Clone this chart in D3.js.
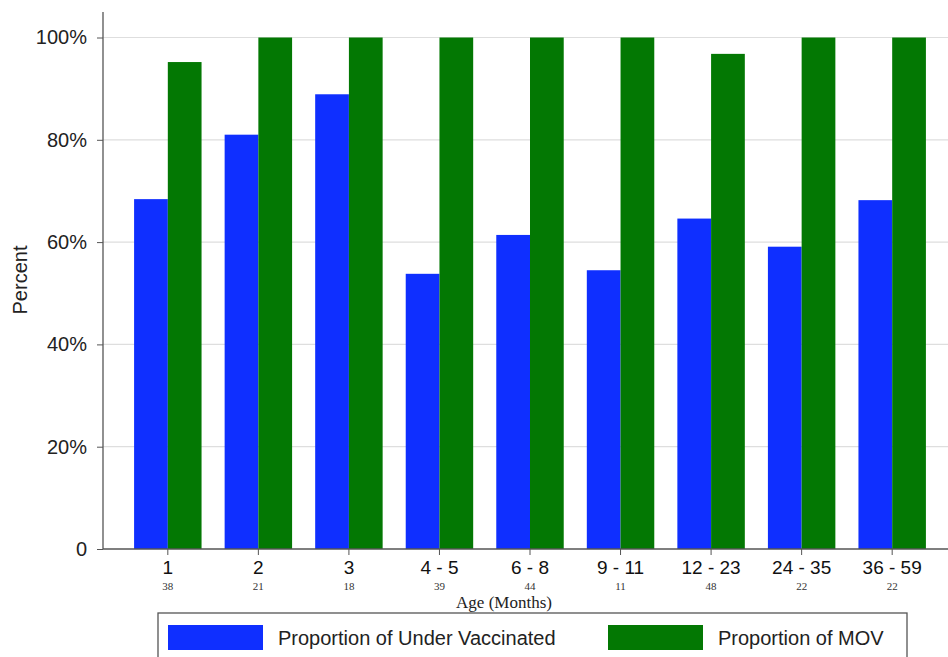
<!DOCTYPE html>
<html>
<head>
<meta charset="utf-8">
<script src="https://cdn.jsdelivr.net/npm/d3@7"></script>
<style>
  body { margin: 0; background: #fff; }
  svg { display: block; }
</style>
</head>
<body>
<svg id="chart" width="948" height="657"></svg>
<script>
// age groups and sample sizes
var ageGroups = ["1", "2", "3", "4 - 5", "6 - 8", "9 - 11", "12 - 23", "24 - 35", "36 - 59"];
var counts = ["38", "21", "18", "39", "44", "11", "48", "22", "22"];
// percent values
var underVaccinated = [68.4, 81.0, 88.9, 53.8, 61.4, 54.5, 64.6, 59.1, 68.2];
var mov = [95.2, 100, 100, 100, 100, 100, 96.8, 100, 100];
var yTicks = [0, 20, 40, 60, 80, 100];
var seriesNames = ["Proportion of Under Vaccinated", "Proportion of MOV"];
var seriesColors = ["#0f2fff", "#037803"];

var svg = d3.select("#chart");
var plotLeft = 103, plotRight = 948, plotTop = 12, plotBottom = 549;
var sans = "Liberation Sans, Arial, sans-serif";
var serif = "Liberation Serif, Times New Roman, serif";

var x = d3.scaleBand().domain(ageGroups).range([111, 949]).padding(0.255);
var x1 = d3.scaleBand().domain([0, 1]).range([0, x.bandwidth()]);
var y = d3.scaleLinear().domain([0, 100]).range([plotBottom, 37.5]);

// grid
svg.append("g").selectAll("line")
  .data(yTicks.filter(d => d > 0))
  .join("line")
  .attr("x1", plotLeft).attr("x2", plotRight)
  .attr("y1", d => y(d)).attr("y2", d => y(d))
  .attr("stroke", "#dedede").attr("stroke-width", 1.2);

// bars
var rows = ageGroups.map((g, i) => ({ g: g, vals: [underVaccinated[i], mov[i]] }));
var groups = svg.append("g").selectAll("g")
  .data(rows)
  .join("g")
  .attr("transform", d => "translate(" + x(d.g) + ",0)");

groups.selectAll("rect")
  .data(d => d.vals.map((v, k) => ({ k: k, v: v })))
  .join("rect")
  .attr("x", d => x1(d.k))
  .attr("width", x1.bandwidth())
  .attr("y", d => y(d.v))
  .attr("height", d => plotBottom - y(d.v))
  .attr("fill", d => seriesColors[d.k]);

// y axis
var yAxis = d3.axisLeft(y).tickValues(yTicks)
  .tickFormat(d => d === 0 ? "0" : d + "%")
  .tickSize(6).tickPadding(10);
var yg = svg.append("g").attr("transform", "translate(" + plotLeft + ",0)").call(yAxis);
yg.select(".domain").remove();
yg.selectAll(".tick line").attr("stroke", "#555");
yg.selectAll("text").attr("font-family", sans)
  .attr("font-size", 20).attr("fill", "#222");
svg.append("line").attr("x1", plotLeft).attr("x2", plotLeft).attr("y1", plotTop).attr("y2", plotBottom)
  .attr("stroke", "#555").attr("stroke-width", 1.3);

// x axis
var xg = svg.append("g").attr("transform", "translate(0," + plotBottom + ")")
  .call(d3.axisBottom(x).tickSize(6).tickPadding(6));
xg.select(".domain").remove();
xg.selectAll(".tick line").attr("stroke", "#555");
xg.selectAll("text").attr("font-family", sans)
  .attr("font-size", 19).attr("fill", "#111");
svg.append("line").attr("x1", plotLeft).attr("x2", plotRight).attr("y1", plotBottom).attr("y2", plotBottom)
  .attr("stroke", "#555").attr("stroke-width", 1.3);

// counts under labels
svg.append("g").selectAll("text")
  .data(ageGroups)
  .join("text")
  .attr("x", d => x(d) + x.bandwidth() / 2)
  .attr("y", 590)
  .attr("text-anchor", "middle")
  .attr("font-family", serif)
  .attr("font-size", 11).attr("fill", "#333")
  .text((d, i) => counts[i]);

svg.append("text")
  .attr("x", 504).attr("y", 608)
  .attr("text-anchor", "middle")
  .attr("font-family", serif)
  .attr("font-size", 17).attr("fill", "#222")
  .text("Age (Months)");

svg.append("text")
  .attr("transform", "translate(27,280) rotate(-90)")
  .attr("text-anchor", "middle")
  .attr("font-family", sans)
  .attr("font-size", 20).attr("fill", "#222")
  .text("Percent");

// legend
svg.append("rect").attr("x", 158).attr("y", 613).attr("width", 749).attr("height", 60)
  .attr("fill", "#fff").attr("stroke", "#555").attr("stroke-width", 1.3);
var leg = svg.append("g").selectAll("g")
  .data(seriesNames)
  .join("g")
  .attr("transform", (d, i) => "translate(" + (i === 0 ? 168 : 608) + ",625)");
leg.append("rect").attr("width", 95).attr("height", 25)
  .attr("fill", (d, i) => seriesColors[i]);
leg.append("text").attr("x", 110).attr("y", 20)
  .attr("font-family", sans)
  .attr("font-size", 20).attr("fill", "#222")
  .text(d => d);
</script>
</body>
</html>
